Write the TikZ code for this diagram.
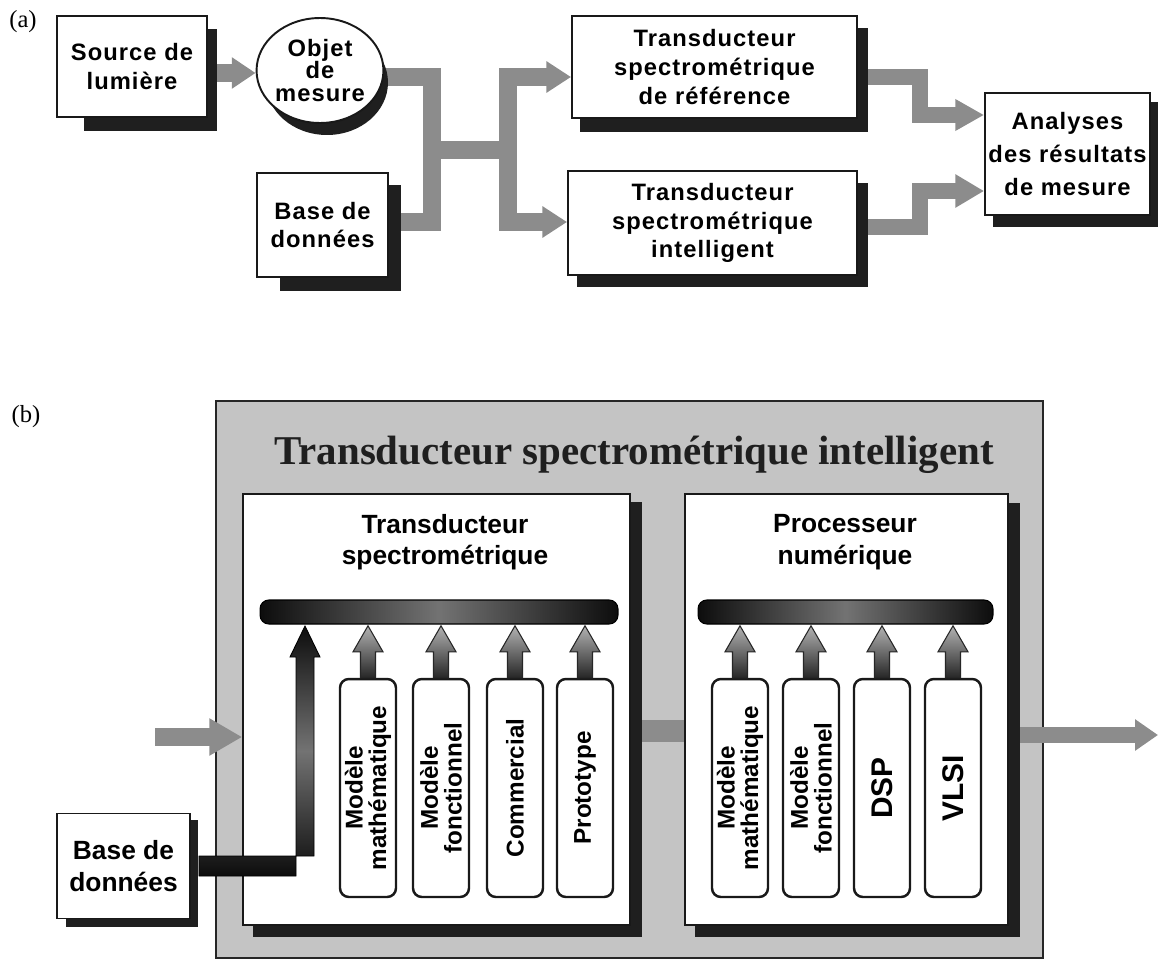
\documentclass[tikz,border=0pt]{standalone}
\usepackage{fontspec}
\setmainfont{Liberation Serif}
\newfontfamily\hva[LetterSpace=4.5]{Liberation Sans}
\newfontfamily\hvb{Liberation Sans}
\usetikzlibrary{arrows.meta,calc,shapes.geometric}
\pgfdeclarelayer{back}
\pgfdeclarelayer{conn}
\pgfdeclarelayer{shad}
\pgfsetlayers{back,conn,shad,main}
\tikzset{
  abox/.style={draw=black!90, line width=1.1pt, fill=white, inner sep=0pt, align=center,
    font=\hva\bfseries\fontsize{13.5}{16.4}\selectfont},
  shadc/.style={fill=black!88},
  gconn/.style={draw=black!45, line width=10.8pt},
  gconnr/.style={draw=black!45, line width=9.6pt},
  pbox/.style={draw=black!90, line width=1pt, fill=white, inner sep=0pt},
  ptitle/.style={align=center, font=\hvb\bfseries\fontsize{15}{18}\selectfont},
  barst/.style={draw=black, line width=0.6pt, rounded corners=5pt, inner sep=0pt,
    left color=black!95, right color=black!95, middle color=black!55},
  mbox/.style={draw=black!90, line width=1.4pt, rounded corners=5pt, fill=white, inner sep=0pt,
    rotate=90, minimum width=4.36cm, minimum height=1.12cm, align=center,
    font=\hvb\bfseries\fontsize{13.8}{13.5}\selectfont},
  bigtxt/.style={font=\hvb\bfseries\fontsize{17}{17}\selectfont},
  sarrow/.style={draw=black!85, line width=0.6pt, top color=black!30, bottom color=black!85},
  lbl/.style={font=\fontsize{14}{16}\selectfont},
}
\newcommand\uparr[1]{%
  \shadedraw[sarrow] ($(#1.east)+(-7.5,0)$) -- ++(0,-26) -- ++(-7.5,0)
    -- ($(#1.east)+(0,-52)$) -- ($(#1.east)+(15,-26)$) -- ++(-7.5,0)
    -- ($(#1.east)+(7.5,0)$) -- cycle;}
\begin{document}
\begin{tikzpicture}[x=0.02cm,y=-0.02cm]
\useasboundingbox (0,0) rectangle (1159,960);

% ================= (a) =================
\node[lbl] (la) at (23,22) {(a)};

% shadows
\begin{pgfonlayer}{shad}
\fill[shadc] (84,29) rectangle (217,131);
\fill[shadc] (327,82.5) ellipse [x radius=1.22cm, y radius=1.05cm];
\fill[shadc] (280,185) rectangle (401,291);
\fill[shadc] (580,28) rectangle (868,132);
\fill[shadc] (577,183) rectangle (868,287);
\fill[shadc] (993,102) rectangle (1158,227);
\end{pgfonlayer}

\node[abox, minimum width=3cm, minimum height=2.02cm] (src) at (132,66.5) {Source de\\lumière};
\node[abox, ellipse, minimum width=2.48cm, minimum height=2.1cm,
  font=\hva\bfseries\fontsize{13.5}{13}\selectfont] (obj) at (320,70.5) {Objet\\de\\mesure};
\node[abox, minimum width=2.62cm, minimum height=2.08cm] (bdA) at (322.5,225) {Base de\\données};
\node[abox, minimum width=5.7cm, minimum height=2.04cm] (ti1) at (714.5,67) {Transducteur\\spectrométrique\\de référence};
\node[abox, minimum width=5.78cm, minimum height=2.08cm] (ti2) at (712.5,223) {Transducteur\\spectrométrique\\intelligent};
\node[abox, minimum width=3.3cm, minimum height=2.44cm,
  font=\hva\bfseries\fontsize{13.5}{19}\selectfont] (ana) at (1067.5,154) {Analyses\\des résultats\\de mesure};

\coordinate (y73) at (0,73);
\coordinate (n1) at (432,77);
\coordinate (n2) at (432,222);
\coordinate (nm1) at (432,150);
\coordinate (nm2) at (508,150);
\coordinate (n3) at (508,77);
\coordinate (n4) at (508,222);
\coordinate (r1) at (920,77);
\coordinate (r2) at (920,115);
\coordinate (r3) at (920,227);
\coordinate (r4) at (920,191);

\begin{pgfonlayer}{conn}
\draw[gconn, -{Triangle[length=13.5pt,width=17pt]}] (src.east |- y73) -- (obj.west |- y73);
\draw[gconn] (obj.east |- n1) -- (n1) -- (n2) -- (bdA.east |- n2);
\draw[gconn] (nm1) -- (nm2);
\draw[gconn, {Triangle[length=14pt,width=17pt]}-{Triangle[length=14pt,width=17pt]}]
  (ti1.west |- n3) -- (n3) -- (n4) -- (ti2.west |- n4);
\draw[gconnr, -{Triangle[length=16.4pt,width=17pt]}] (ti1.east |- r1) -- (r1) -- (r2) -- (ana.west |- r2);
\draw[gconnr, -{Triangle[length=16.4pt,width=18pt]}] (ti2.east |- r3) -- (r3) -- (r4) -- (ana.west |- r4);
\end{pgfonlayer}

% ================= (b) =================
\node[lbl] (lb) at (26,417) {(b)};

\begin{pgfonlayer}{back}
\node[draw=black!85, line width=1.4pt, fill=black!23, minimum width=16.54cm, minimum height=11.14cm, inner sep=0pt]
  (pnl) at (629.5,679.5) {};
\end{pgfonlayer}

\node[font=\bfseries\fontsize{23.3}{25}\selectfont, text=black!88] (ttl) at (634,455) {Transducteur spectrométrique intelligent};

\begin{pgfonlayer}{shad}
\fill[shadc] (253,502) rectangle (642,937);
\fill[shadc] (695,503) rectangle (1020,937);
\fill[shadc] (66,820) rectangle (198,927);
\end{pgfonlayer}

\node[pbox, minimum width=7.74cm, minimum height=8.62cm] (pL) at (436.5,709.5) {};
\node[pbox, minimum width=6.46cm, minimum height=8.62cm] (pR) at (846.5,709.5) {};

\node[ptitle] (tL) at (445,542) {Transducteur\\spectrométrique};
\node[ptitle] (tR) at (845,542) {Processeur\\numérique};

\node[barst, minimum width=7.16cm, minimum height=0.48cm] (barL) at (439,612) {};
\node[barst, minimum width=5.9cm, minimum height=0.48cm] (barR) at (845.5,612) {};

\node[mbox] (m1) at (368,788) {Modèle\\mathématique};
\node[mbox] (m2) at (441,788) {Modèle\\fonctionnel};
\node[mbox] (m3) at (515,788) {Commercial};
\node[mbox] (m4) at (585,788) {Prototype};
\node[mbox] (p1) at (740,788) {Modèle\\mathématique};
\node[mbox] (p2) at (811,788) {Modèle\\fonctionnel};
\node[mbox, bigtxt] (p3) at (882,788) {DSP};
\node[mbox, bigtxt] (p4) at (953,788) {VLSI};

\uparr{m1}\uparr{m2}\uparr{m3}\uparr{m4}
\uparr{p1}\uparr{p2}\uparr{p3}\uparr{p4}

\node[pbox, line width=1.1pt, minimum width=2.66cm, minimum height=2.1cm, align=center,
  font=\hvb\bfseries\fontsize{15}{18}\selectfont] (db) at (123.5,866) {Base de\\données};

% database arrow
\shadedraw[draw=black, line width=0.5pt, top color=black!95, bottom color=black!95, middle color=black!55]
  ($(db.east)+(8,-10)$) -- (314,856) -- (314,657) -- (320,657) -- (305,626) -- (290,657) -- (296,657)
  -- (296,876) -- ($(db.east)+(8,10)$) -- cycle;

\coordinate (inS) at (155,737);
\coordinate (mid) at (0,731);
\coordinate (outE) at (1158,735);
\draw[draw=black!45, line width=10.2pt, -{Triangle[length=18.7pt,width=20pt]}] (inS) -- (pL.west |- inS);
\begin{pgfonlayer}{conn}
\draw[draw=black!45, line width=12.5pt] (pL.east |- mid) -- (pR.west |- mid);
\draw[draw=black!45, line width=9pt, -{Triangle[length=13pt,width=17pt]}] (pR.east |- outE) -- (outE);
\end{pgfonlayer}
\end{tikzpicture}
\end{document}
